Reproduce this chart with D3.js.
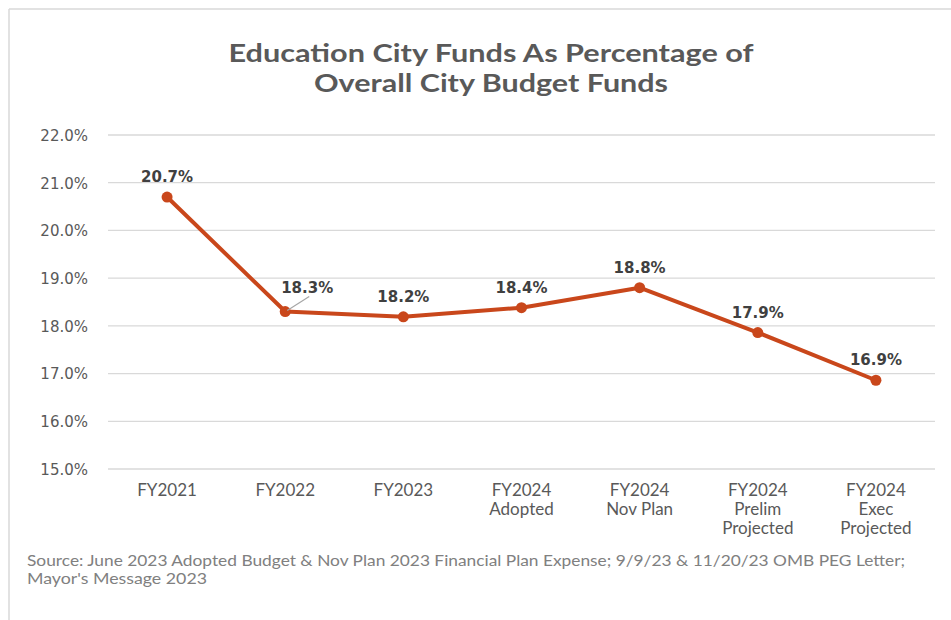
<!DOCTYPE html>
<html>
<head>
<meta charset="utf-8">
<style>
    body { margin: 0; background: #fff; }
    svg { display: block; }
    .grid line { stroke: #d9d9d9; stroke-width: 1.3; }
    .ytick { font-family: "DejaVu Sans", Verdana, sans-serif; font-size: 15px; fill: #595959; }
    .xtick { font-family: Lato, "Open Sans", sans-serif; font-size: 17px; fill: #595959; }
    .label { font-family: "DejaVu Sans", Verdana, sans-serif; font-size: 15px; font-weight: bold; fill: #404040; }
    .title { font-family: Lato, "Open Sans", sans-serif; font-size: 24px; font-weight: bold; fill: #595959; }
    .source { font-family: Lato, "Open Sans", sans-serif; font-size: 15px; fill: #808080; }
</style>
</head>
<body>
<svg id="chart" width="951" height="620"></svg>
<script src="https://cdn.jsdelivr.net/npm/d3@7"></script>
<script>
    // data
    let categories = [
        ["FY2021"],
        ["FY2022"],
        ["FY2023"],
        ["FY2024", "Adopted"],
        ["FY2024", "Nov Plan"],
        ["FY2024", "Prelim", "Projected"],
        ["FY2024", "Exec", "Projected"]
    ]
    let values = [20.7, 18.3, 18.19, 18.38, 18.8, 17.86, 16.86]
    let yTicks = [15, 16, 17, 18, 19, 20, 21, 22]
    let titleLines = ["Education City Funds As Percentage of", "Overall City Budget Funds"]
    let sourceLines = [
        "Source: June 2023 Adopted Budget & Nov Plan 2023 Financial Plan Expense; 9/9/23 & 11/20/23 OMB PEG Letter;",
        "Mayor's Message 2023"
    ]

    let svg = d3.select("#chart")

    // chart frame (only left and top edges are visible in the crop)
    svg.append("line").attr("x1", 9).attr("y1", 9).attr("x2", 951).attr("y2", 9)
        .attr("stroke", "#d9d9d9").attr("stroke-width", 1.5)
    svg.append("line").attr("x1", 9).attr("y1", 9).attr("x2", 9).attr("y2", 620)
        .attr("stroke", "#d9d9d9").attr("stroke-width", 1.5)

    // title (the source image is stretched sideways, so widths are fixed)
    let titleWidths = [525, 354]
    svg.append("g").selectAll("text")
        .data(titleLines)
        .enter().append("text")
        .attr("class", "title")
        .attr("x", 491)
        .attr("y", (d, i) => 62 + i * 30)
        .attr("text-anchor", "middle")
        .attr("textLength", (d, i) => titleWidths[i])
        .attr("lengthAdjust", "spacingAndGlyphs")
        .text(d => d)

    let x = d3.scaleBand()
        .domain(d3.range(categories.length))
        .range([108, 935])

    let y = d3.scaleLinear()
        .domain([15, 22])
        .range([469, 135])

    // gridlines
    svg.append("g").attr("class", "grid")
        .selectAll("line")
        .data(yTicks)
        .enter().append("line")
        .attr("x1", 108).attr("x2", 935)
        .attr("y1", d => y(d)).attr("y2", d => y(d))

    // y axis labels
    let yAxis = d3.axisLeft(y)
        .tickValues(yTicks)
        .tickFormat(d => d3.format(".1f")(d) + "%")
        .tickSize(0)
        .tickPadding(0)
    let yg = svg.append("g").attr("transform", "translate(88,0)").call(yAxis)
    yg.select(".domain").remove()
    yg.selectAll("text").attr("class", "ytick").attr("font-family", null).attr("font-size", null).attr("fill", null)
        .attr("dy", "0.36em")

    // x axis labels (multi-line)
    let xg = svg.append("g")
    xg.selectAll("text")
        .data(categories)
        .enter().append("text")
        .attr("class", "xtick")
        .attr("text-anchor", "middle")
        .attr("x", (d, i) => x(i) + x.bandwidth() / 2)
        .attr("y", 496)
        .selectAll("tspan")
        .data(d => d)
        .enter().append("tspan")
        .attr("x", function () { return d3.select(this.parentNode).attr("x") })
        .attr("dy", (d, i) => i === 0 ? 0 : 19)
        .text(d => d)

    let cx = i => x(i) + x.bandwidth() / 2

    // line
    let line = d3.line()
        .x((d, i) => cx(i))
        .y(d => y(d))
    svg.append("path")
        .datum(values)
        .attr("fill", "none")
        .attr("stroke", "#c9471b")
        .attr("stroke-width", 4)
        .attr("stroke-linejoin", "round")
        .attr("d", line)

    svg.append("g").selectAll("circle")
        .data(values)
        .enter().append("circle")
        .attr("cx", (d, i) => cx(i))
        .attr("cy", d => y(d))
        .attr("r", 5.5)
        .attr("fill", "#c9471b")

    // data labels; the FY2022 one is pulled up-right with a leader line
    let labelOffset = values.map((d, i) => i === 1 ? [22, -19] : [0, -15])

    svg.append("line")
        .attr("x1", cx(1) + 2).attr("y1", y(values[1]) - 1)
        .attr("x2", cx(1) + 24).attr("y2", y(values[1]) - 15)
        .attr("stroke", "#a6a6a6").attr("stroke-width", 1.2)

    svg.append("g").selectAll("text")
        .data(values)
        .enter().append("text")
        .attr("class", "label")
        .attr("text-anchor", "middle")
        .attr("x", (d, i) => cx(i) + labelOffset[i][0])
        .attr("y", (d, i) => y(d) + labelOffset[i][1])
        .text(d => d3.format(".1f")(d) + "%")

    // source note
    let sourceWidths = [878, 180]
    svg.append("g").selectAll("text")
        .data(sourceLines)
        .enter().append("text")
        .attr("class", "source")
        .attr("x", 27)
        .attr("y", (d, i) => 566 + i * 18)
        .attr("textLength", (d, i) => sourceWidths[i])
        .attr("lengthAdjust", "spacingAndGlyphs")
        .text(d => d)
</script>
</body>
</html>
